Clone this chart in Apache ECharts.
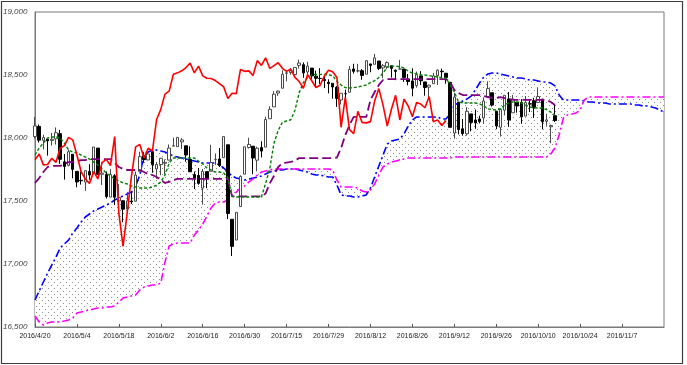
<!DOCTYPE html>
<html><head><meta charset="utf-8">
<script src="https://cdn.jsdelivr.net/npm/echarts@6/dist/echarts.min.js"></script>
<style>html,body{margin:0;padding:0;background:#fff}#c{width:687px;height:365px}</style>
</head><body><div id="c"></div><script>
// trading days (month, days)
const monthDays = [
  [4, [20,21,22,25,26,27,28,29]],
  [5, [2,3,4,5,6,9,10,11,12,13,16,17,18,19,20,23,24,25,26,27,31]],
  [6, [1,2,3,6,7,8,9,10,13,14,15,16,17,20,21,22,23,24,27,28,29,30]],
  [7, [1,5,6,7,8,11,12,13,14,15,18,19,20,21,22,25,26,27,28,29]],
  [8, [1,2,3,4,5,8,9,10,11,12,15,16,17,18,19,22,23,24,25,26,29,30,31]],
  [9, [1,2,6,7,8,9,12,13,14,15,16,19,20,21,22,23,26,27,28,29,30]],
  [10,[3,4,5,6,7,10,11,12,13,14,17,18,19,20,21,24,25,26,27,28,31]],
  [11,[1,2,3,4,7,8,9,10,11,14,15,16,17,18,21]]
];
const categories = [];
monthDays.forEach(([m, ds]) => ds.forEach(d => categories.push('2016/' + m + '/' + d)));

const yTicks = [16500, 17000, 17500, 18000, 18500, 19000];

const opens = [18011,18092,17982,17990,17980,17993,18034,17811,17783,17871,
17735,17664,17650,17735,17718,17920,17712,17711,17531,17701,
17501,17502,17437,17500,17498,17735,17860,17826,17891,17754,
17789,17799,17825,17936,17931,17969,17938,17830,17710,17703,
17602,17733,17736,17828,17833,17844,17946,17355,17190,17456,
17713,17924,17935,17824,17925,17928,18153,18247,18357,18395,
18514,18519,18504,18576,18582,18524,18555,18491,18473,18465,
18442,18434,18402,18302,18352,18363,18548,18532,18534,18506,
18588,18585,18611,18557,18564,18574,18538,18547,18547,18467,
18453,18416,18493,18445,18404,18431,18494,18530,18514,18442,
18039,18285,18073,18033,18191,18143,18151,18159,18329,18359,
18213,18085,18221,18310,18200,18283,18281,18174,18272,18296,
18282,18309,18132,18089,18177];
const highs = [18167,18107,18025,17990,18040,18084,18064,17873,17910,17871,
17735,17736,17744,17792,17929,17920,17809,17734,17755,17713,
17636,17502,17571,17571,17734,17891,17888,17873,17899,17809,
17842,17830,17949,18003,18006,17999,17938,17934,17734,17762,
17754,17733,17946,17877,17920,18011,17946,17355,17410,17704,
17930,18002,17935,17931,17975,18169,18251,18372,18377,18537,
18537,18554,18562,18622,18600,18605,18555,18535,18554,18499,
18466,18434,18412,18355,18384,18571,18589,18588,18547,18614,
18588,18668,18611,18587,18609,18574,18543,18620,18548,18508,
18553,18527,18531,18445,18424,18517,18545,18550,18514,18442,
18359,18285,18151,18244,18191,18226,18177,18323,18450,18359,
18213,18236,18339,18365,18342,18283,18308,18333,18307,18319,
18400,18309,18193,18106,18262];
const lows = [17996,17964,17909,17860,17940,17948,17795,17670,17774,17680,
17609,17630,17580,17668,17718,17711,17627,17520,17531,17469,
17418,17331,17437,17476,17498,17735,17803,17824,17724,17676,
17704,17710,17822,17936,17931,17912,17812,17731,17595,17629,
17471,17602,17736,17786,17770,17844,17357,17063,17190,17456,
17712,17917,17713,17735,17846,17928,18153,18247,18334,18395,
18450,18503,18486,18552,18478,18501,18467,18411,18428,18396,
18354,18312,18247,18266,18320,18363,18511,18520,18462,18506,
18522,18585,18539,18474,18546,18479,18459,18546,18445,18418,
18331,18399,18420,18336,18310,18431,18421,18478,18431,18085,
17995,18029,18018,18019,18053,18073,18116,18114,18329,18250,
18070,18011,18179,18089,18200,18201,18113,18174,18206,18159,
18282,18069,18097,17959,18127];
const closes = [18096,17983,18004,17977,17990,18042,17831,17774,17891,17751,
17651,17661,17741,17706,17928,17711,17721,17535,17711,17530,
17527,17435,17501,17493,17706,17852,17828,17873,17787,17790,
17839,17807,17920,17938,18005,17985,17865,17732,17675,17640,
17733,17675,17805,17830,17781,18011,17401,17140,17410,17695,
17930,17949,17841,17919,17896,18147,18227,18348,18372,18506,
18517,18533,18559,18595,18517,18571,18493,18474,18472,18456,
18432,18405,18314,18355,18352,18544,18529,18533,18496,18614,
18576,18636,18552,18574,18598,18553,18529,18547,18481,18448,
18395,18503,18454,18401,18419,18492,18538,18526,18480,18085,
18325,18067,18035,18212,18124,18120,18130,18294,18392,18261,
18095,18228,18339,18143,18308,18254,18168,18281,18269,18240,
18329,18129,18144,18099,18138];

const tenkan = [17865,17921,17960,18000,18008,18008,18000,17960,17905,17889,
17881,17865,17849,17833,17809,17786,17754,17722,17698,17675,
17659,17643,17635,17619,17611,17603,17603,17603,17611,17627,
17651,17706,17802,17841,17841,17841,17841,17841,17841,17817,
17794,17762,17746,17730,17730,17722,17684,17537,17532,17532,
17532,17532,17532,17532,17532,17640,17760,17960,18060,18125,
18135,18145,18220,18360,18440,18480,18500,18505,18505,18505,
18500,18495,18450,18420,18400,18397,18400,18405,18412,18421,
18440,18455,18480,18516,18563,18570,18571,18565,18556,18530,
18516,18510,18502,18500,18495,18490,18484,18480,18476,18421,
18365,18286,18278,18278,18278,18278,18270,18255,18232,18225,
18222,18232,18262,18280,18286,18286,18278,18260,18246,18240,
18238,18238,18225,18205,18183];
const kijun = [17643,17682,17730,17770,17778,17778,17778,17794,17809,17809,
17817,17825,17825,17833,17833,17833,17833,17833,17833,17802,
17770,17754,17746,17746,17746,17746,17730,17714,17706,17690,
17667,17643,17651,17667,17675,17675,17675,17675,17675,17675,
17675,17675,17675,17675,17675,17675,17675,17537,17537,17537,
17537,17537,17537,17537,17537,17560,17640,17700,17770,17800,
17805,17810,17820,17841,17841,17841,17841,17841,17841,17841,
17841,17841,17845,17921,18024,18103,18167,18167,18167,18167,
18302,18365,18421,18460,18468,18468,18468,18468,18468,18468,
18468,18468,18468,18468,18468,18468,18468,18468,18468,18444,
18381,18357,18341,18341,18341,18341,18341,18333,18325,18317,
18317,18325,18317,18309,18302,18302,18302,18302,18302,18302,
18302,18302,18302,18286,18262];
const senkouA = [16714,16786,16857,16928,16992,17055,17127,17159,17190,17246,
17286,17333,17373,17397,17421,17436,17452,17468,17484,17508,
17524,17540,17556,17571,17619,17706,17865,17889,17905,17905,
17897,17889,17873,17857,17849,17841,17833,17825,17817,17809,
17802,17802,17802,17802,17786,17762,17730,17698,17682,17675,
17667,17675,17682,17690,17698,17714,17730,17738,17746,17746,
17754,17754,17754,17746,17738,17730,17714,17706,17706,17698,
17690,17690,17627,17548,17540,17540,17532,17532,17540,17548,
17603,17690,17778,17865,17952,17976,17984,17992,18032,18095,
18143,18167,18167,18167,18167,18167,18167,18151,18151,18190,
18262,18278,18294,18309,18333,18381,18436,18484,18508,18516,
18516,18508,18500,18492,18484,18476,18476,18468,18460,18460,
18452,18444,18444,18436,18413,18341,18302,18302,18302,18302,
18302,18294,18286,18286,18278,18278,18278,18270,18270,18270,
18270,18270,18270,18262,18262,18254,18254,18246,18238,18222,18206];
const senkouB = [16587,16540,16516,16532,16540,16540,16540,16548,16556,16571,
16611,16619,16627,16635,16643,16651,16651,16659,16659,16667,
16698,16730,16738,16746,16754,16794,16817,16825,16833,16833,
16849,17016,17143,17159,17167,17167,17167,17167,17230,17270,
17317,17381,17444,17484,17492,17492,17508,17540,17571,17603,
17619,17651,17675,17706,17730,17738,17746,17754,17754,17754,
17754,17754,17754,17754,17754,17754,17754,17754,17754,17754,
17754,17746,17667,17611,17611,17611,17611,17603,17579,17571,
17587,17635,17706,17770,17794,17809,17817,17825,17833,17841,
17841,17841,17841,17841,17841,17841,17841,17841,17841,17841,
17849,17849,17849,17849,17849,17849,17849,17849,17849,17849,
17849,17849,17849,17849,17849,17849,17849,17849,17849,17849,
17849,17849,17849,17873,17921,18024,18159,18183,18190,18198,
18222,18302,18325,18325,18325,18325,18325,18325,18325,18325,
18325,18325,18325,18325,18325,18325,18325,18325,18325,18325,18325];
const chikou = [17828,17873,17787,17790,17839,17807,17920,17938,18005,17985,
17865,17732,17675,17640,17733,17675,17805,17830,17781,18011,
17401,17140,17410,17695,17930,17949,17841,17919,17896,18147,
18227,18348,18372,18506,18517,18533,18559,18595,18517,18571,
18493,18474,18472,18456,18432,18405,18314,18355,18352,18544,
18529,18533,18496,18614,18576,18636,18552,18574,18598,18553,
18529,18547,18481,18448,18395,18503,18454,18401,18419,18492,
18538,18526,18480,18085,18325,18067,18035,18212,18124,18120,
18130,18294,18392,18261,18095,18228,18339,18143,18308,18254,
18168,18281,18269,18240,18329,18129,18144,18099,18138];

const candleData = opens.map((o, i) => [o, closes[i], lows[i], highs[i]]);
const cloudBase = senkouA.map((a, i) => Math.min(a, senkouB[i]));
const cloudBand = senkouA.map((a, i) => Math.abs(a - senkouB[i]));

const pc = document.createElement('canvas');
pc.width = 6; pc.height = 6;
const pctx = pc.getContext('2d');
pctx.fillStyle = '#ffffff';
pctx.fillRect(0, 0, 6, 6);
pctx.fillStyle = '#8a8a8a';
pctx.fillRect(0, 0, 1, 1);
pctx.fillRect(3, 3, 1, 1);

const chart = echarts.init(document.getElementById('c'), null, {renderer: 'canvas'});
const showIdx = (idx) => idx % 10 === 0 && idx < 150;
chart.setOption({
  animation: false,
  backgroundColor: '#ffffff',
  graphic: [{
    type: 'rect', shape: {x: 1.5, y: 1.5, width: 681, height: 362},
    style: {fill: null, stroke: '#3c3c3c', lineWidth: 1.2}, z: -10
  }],
  grid: {left: 35, top: 12, right: 23, bottom: 38, show: true, borderColor: '#7a7a7a', borderWidth: 1},
  xAxis: {
    type: 'category', data: categories, boundaryGap: false,
    axisLine: {lineStyle: {color: '#7a7a7a', width: 1}},
    axisTick: {show: true, inside: true, length: 3, interval: showIdx, lineStyle: {color: '#555'}},
    axisLabel: {interval: showIdx, fontSize: 7, color: '#222', margin: 6, fontFamily: 'Liberation Sans'},
    splitLine: {show: false}
  },
  yAxis: {
    type: 'value', min: 16500, max: 19000, interval: 500,
    axisLine: {show: true, lineStyle: {color: '#7a7a7a'}},
    axisTick: {show: false},
    splitLine: {show: false},
    axisLabel: {
      formatter: v => yTicks.includes(v) ? v.toLocaleString('en-US') : '',
      fontSize: 8, fontStyle: 'italic', color: '#444', align: 'left', margin: 32,
      fontFamily: 'Liberation Sans'
    }
  },
  series: [
    {name: 'base', type: 'line', data: cloudBase, stack: 'cloud', showSymbol: false,
     lineStyle: {opacity: 0}, silent: true, z: 1},
    {name: 'cloud', type: 'line', data: cloudBand, stack: 'cloud', showSymbol: false,
     lineStyle: {opacity: 0}, areaStyle: {color: {image: pc, repeat: 'repeat'}, opacity: 1}, silent: true, z: 1},
    {name: 'senkouA', type: 'line', data: senkouA, showSymbol: false, z: 3,
     lineStyle: {color: '#0000ff', width: 1.6, type: [8, 3, 2, 3]}},
    {name: 'senkouB', type: 'line', data: senkouB, showSymbol: false, z: 3,
     lineStyle: {color: '#ff00ff', width: 1.6, type: [8, 3, 2, 3]}},
    {name: 'candle', type: 'candlestick', data: candleData, barWidth: 3, z: 4,
     itemStyle: {color: '#ffffff', color0: '#000000', borderColor: '#4a4a4a', borderColor0: '#000000', borderWidth: 1}},
    {name: 'kijun', type: 'line', data: kijun, showSymbol: false, z: 5,
     lineStyle: {color: '#800080', width: 1.8, type: [9, 4]}},
    {name: 'tenkan', type: 'line', data: tenkan, showSymbol: false, z: 5,
     lineStyle: {color: '#008000', width: 1.4, type: [3, 2]}},
    {name: 'chikou', type: 'line', data: chikou, showSymbol: false, z: 6,
     lineStyle: {color: '#ff0000', width: 1.6}}
  ]
});
</script></body></html>
